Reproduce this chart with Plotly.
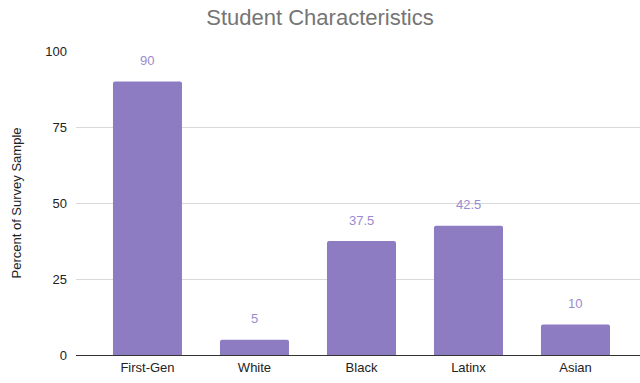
import plotly.graph_objects as go

categories = ["First-Gen", "White", "Black", "Latinx", "Asian"]
values = [90, 5, 37.5, 42.5, 10]
value_labels = ["90", "5", "37.5", "42.5", "10"]
y_ticks = [0, 25, 50, 75, 100]

BAR = "#8e7cc3"
LABEL = "#9a8bd0"

fig = go.Figure()
fig.add_trace(go.Bar(
    x=list(range(len(categories))), y=values,
    marker=dict(color=BAR, line=dict(width=0), cornerradius=2),
    hoverinfo="skip",
))

for i, (v, t) in enumerate(zip(values, value_labels)):
    fig.add_annotation(x=i, y=v, text=t, showarrow=False, yshift=21,
                       yanchor="middle", xanchor="center",
                       font=dict(family="Liberation Sans, Arial", size=13, color=LABEL))

fig.update_layout(
    width=640, height=383,
    margin=dict(l=76, r=0, t=51, b=28),
    paper_bgcolor="white", plot_bgcolor="white",
    bargap=0.355,
    showlegend=False,
    title=dict(text="Student Characteristics", x=0.5, xanchor="center",
               y=1 - 17 / 383, yanchor="middle", yref="container",
               font=dict(family="Liberation Sans, Arial", size=22, color="#757575")),
    font=dict(family="Liberation Sans, Arial", size=13, color="#222222"),
)
fig.update_xaxes(
    range=[-0.668, 4.603],
    tickmode="array", tickvals=list(range(len(categories))), ticktext=categories,
    showgrid=False, zeroline=False,
    showline=True, linecolor="#333333", linewidth=1,
    ticks="", tickfont=dict(size=13, color="#222222"),
)
fig.update_yaxes(
    range=[0, 100], tickmode="array", tickvals=y_ticks,
    showgrid=True, gridcolor="#d9d9d9", gridwidth=1,
    zeroline=False, showline=False, ticks="",
    ticklabelstandoff=8,
    tickfont=dict(size=13, color="#222222"),
    title=dict(text="Percent of Survey Sample", standoff=20,
               font=dict(size=13, color="#222222")),
)

fig.write_html("out.html")
